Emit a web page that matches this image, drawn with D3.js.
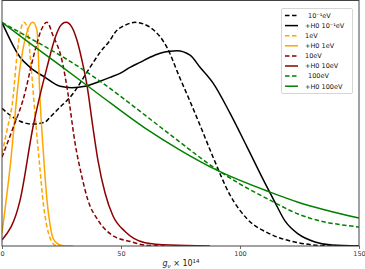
<!DOCTYPE html>
<html>
<head>
<meta charset="utf-8">
<script src="https://cdn.jsdelivr.net/npm/d3@7"></script>
<style>
  html, body { margin: 0; padding: 0; background: #fff; }
  svg { display: block; font-family: "DejaVu Sans", sans-serif; }
</style>
</head>
<body>
<svg id="chart" width="365" height="269"></svg>
<script>
// ---- data (g_nu x 10^14 vs normalised distribution) ----
const xTicks = [0, 50, 100, 150];

const blackDashedX = [0, 3.4, 7.6, 13.0, 18.1, 20.2, 24.4, 28.6, 37.0, 41.2, 45.4, 47.5, 51.7, 55.9, 62.2, 69.3, 74.8, 79.0, 83.2, 88.7, 95.8, 103.0, 112.6, 124.4, 138.7, 150];
const blackDashedY = [0.616, 0.585, 0.558, 0.545, 0.554, 0.576, 0.621, 0.665, 0.799, 0.866, 0.920, 0.955, 0.987, 1.0, 0.978, 0.888, 0.750, 0.647, 0.540, 0.397, 0.228, 0.121, 0.054, 0.015, 0.0, 0.0];

const blackSolidX = [0, 7.6, 11.8, 18.1, 24.4, 29.4, 34.9, 41.2, 45.4, 49.6, 53.8, 58.0, 62.2, 66.4, 70.6, 73.5, 79.0, 83.2, 88.7, 95.8, 103.0, 110.5, 114.7, 118.9, 124.4, 131.5, 138.7, 150];
const blackSolidY = [1.0, 0.844, 0.799, 0.754, 0.714, 0.708, 0.714, 0.737, 0.754, 0.772, 0.799, 0.821, 0.844, 0.862, 0.871, 0.873, 0.853, 0.799, 0.728, 0.594, 0.442, 0.281, 0.195, 0.112, 0.054, 0.018, 0.004, 0.0];

const orangeDashedX = [0, 2.1, 4.6, 6.3, 7.6, 9.2, 10.5, 11.8, 13.9, 16.0, 17.2, 18.9, 20.2, 22.3, 24.4];
const orangeDashedY = [0.415, 0.518, 0.660, 0.853, 0.955, 1.0, 0.982, 0.853, 0.585, 0.339, 0.205, 0.085, 0.036, 0.004, 0.0];

const orangeSolidX = [0, 3.4, 7.6, 10.1, 13.0, 14.7, 16.0, 17.6, 18.9, 20.2, 21.4, 23.5, 26.5, 29.8];
const orangeSolidY = [0.058, 0.353, 0.800, 0.942, 1.0, 0.964, 0.652, 0.384, 0.205, 0.094, 0.036, 0.009, 0.0, 0.0];

const redDashedX = [0, 4.6, 8.8, 13.9, 16.4, 18.9, 21.4, 25.2, 27.7, 30.7, 33.6, 36.1, 40.3, 46.2, 54.6, 60.1, 68.5];
const redDashedY = [0.397, 0.527, 0.652, 0.875, 0.964, 1.0, 0.942, 0.830, 0.683, 0.460, 0.308, 0.205, 0.116, 0.049, 0.018, 0.004, 0.0];

const redSolidX = [0, 7.6, 13.0, 18.9, 22.7, 24.4, 26.9, 29.4, 31.5, 33.6, 35.7, 38.2, 40.3, 43.3, 46.6, 51.7, 60.1, 70.6, 87.4];
const redSolidY = [0.027, 0.205, 0.531, 0.799, 0.942, 0.982, 1.0, 0.978, 0.920, 0.830, 0.719, 0.531, 0.384, 0.237, 0.135, 0.065, 0.015, 0.004, 0.0];

const greenDashedX = [0, 11.8, 24.4, 41.2, 60.1, 74.8, 88.2, 100.0, 112.6, 124.4, 150];
const greenDashedY = [1.0, 0.929, 0.853, 0.737, 0.585, 0.464, 0.357, 0.277, 0.205, 0.143, 0.085];

const greenSolidX = [0, 11.8, 24.4, 41.2, 60.1, 74.8, 90.3, 112.6, 124.4, 150];
const greenSolidY = [1.0, 0.906, 0.808, 0.674, 0.527, 0.429, 0.339, 0.241, 0.196, 0.125];

const seriesNames = ["10\u207B\u00B9eV", "+H0 10\u207B\u00B9eV", "1eV", "+H0 1eV", "10eV", "+H0 10eV", "100eV", "+H0 100eV"];
const seriesColors = ["#000000", "#000000", "#FFA500", "#FFA500", "#8B0000", "#8B0000", "#008000", "#008000"];
const seriesDashed = [true, false, true, false, true, false, true, false];
const seriesX = [blackDashedX, blackSolidX, orangeDashedX, orangeSolidX, redDashedX, redSolidX, greenDashedX, greenSolidX];
const seriesY = [blackDashedY, blackSolidY, orangeDashedY, orangeSolidY, redDashedY, redSolidY, greenDashedY, greenSolidY];

// ---- layout ----
const svg = d3.select("#chart");
const L = 2, R = 359, T = 0, B = 246;
const x = d3.scaleLinear().domain([0, 150]).range([L, R]);
const y = d3.scaleLinear().domain([0, 1.1]).range([B, T]);

svg.append("defs").append("clipPath").attr("id", "clip")
  .append("rect").attr("x", L).attr("y", T).attr("width", R - L).attr("height", B - T);

const line = d3.line().x(d => x(d[0])).y(d => y(d[1])).curve(d3.curveMonotoneX);

const g = svg.append("g").attr("clip-path", "url(#clip)");
seriesNames.forEach((name, i) => {
  const pts = seriesX[i].map((v, j) => [v, seriesY[i][j]]);
  g.append("path")
    .datum(pts)
    .attr("d", line)
    .attr("fill", "none")
    .attr("stroke", seriesColors[i])
    .attr("stroke-width", 1.5)
    .attr("stroke-dasharray", seriesDashed[i] ? "4.5,2.5" : null);
});

// ---- axes ----
const xAxis = d3.axisBottom(x).tickValues(xTicks).tickSize(3).tickPadding(2);
const ax = svg.append("g").attr("transform", `translate(0,${B})`).call(xAxis);
ax.select(".domain").remove();
ax.selectAll("text").attr("font-size", 6.5).attr("fill", "#333").attr("font-family", "DejaVu Sans, sans-serif");
ax.selectAll("line").attr("stroke", "#444").attr("stroke-width", 0.8);

// frame
svg.append("rect").attr("x", L).attr("y", T + 0.5).attr("width", R - L).attr("height", B - T - 0.5)
  .attr("fill", "none").attr("stroke", "#444").attr("stroke-width", 1);

// x label
const lab = svg.append("text").attr("x", 181).attr("y", 266).attr("text-anchor", "middle")
  .attr("font-size", 8).attr("fill", "#222");
lab.append("tspan").attr("font-style", "italic").text("g");
lab.append("tspan").attr("font-size", 5.5).attr("font-style", "italic").attr("dy", 1.5).text("\u03BD");
lab.append("tspan").attr("dy", -1.5).text(" \u00D7 10");
lab.append("tspan").attr("font-size", 5.5).attr("dy", -3.5).text("14");

// ---- legend ----
const lg = svg.append("g");
lg.append("rect").attr("x", 281.5).attr("y", 8.5).attr("width", 71).attr("height", 85)
  .attr("fill", "#fff").attr("stroke", "#ccc").attr("stroke-width", 0.8).attr("rx", 1.5);
seriesNames.forEach((name, i) => {
  const yy = 15.5 + i * 10.1;
  lg.append("line").attr("x1", 285).attr("x2", 298).attr("y1", yy).attr("y2", yy)
    .attr("stroke", seriesColors[i]).attr("stroke-width", 1.5)
    .attr("stroke-dasharray", seriesDashed[i] ? "4.5,2.5" : null);
  lg.append("text").attr("x", seriesDashed[i] && (i === 0 || i === 6) ? 308 : 305).attr("y", yy + 2.3)
    .attr("font-size", 6.5).attr("fill", "#111").text(name);
});
</script>
</body>
</html>
